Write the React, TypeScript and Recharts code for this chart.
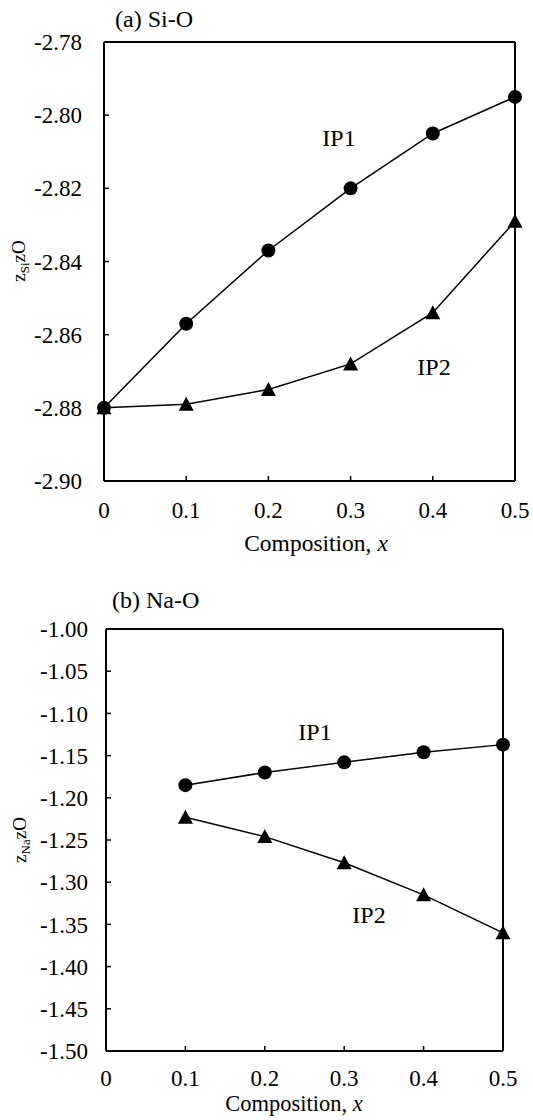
import React from 'react';
import { LineChart, Line, XAxis, YAxis, ReferenceLine } from 'recharts';

const FONT = '"Liberation Serif", "Times New Roman", serif';

// (a) Si-O
const siComposition = [0, 0.1, 0.2, 0.3, 0.4, 0.5];
const siIP1 = [-2.88, -2.857, -2.837, -2.82, -2.805, -2.795];
const siIP2 = [-2.88, -2.879, -2.875, -2.868, -2.854, -2.829];
const siTicks = [-2.9, -2.88, -2.86, -2.84, -2.82, -2.8, -2.78];

// (b) Na-O
const naComposition = [0.1, 0.2, 0.3, 0.4, 0.5];
const naIP1 = [-1.185, -1.17, -1.158, -1.146, -1.137];
const naIP2 = [-1.223, -1.246, -1.277, -1.315, -1.36];
const naTicks = [-1.5, -1.45, -1.4, -1.35, -1.3, -1.25, -1.2, -1.15, -1.1, -1.05, -1.0];

const xTicks = [0, 0.1, 0.2, 0.3, 0.4, 0.5];

const siData = siComposition.map((x, i) => ({ x, ip1: siIP1[i], ip2: siIP2[i] }));
const naData = naComposition.map((x, i) => ({ x, ip1: naIP1[i], ip2: naIP2[i] }));

const CircleDot = (props: any) => {
  const { cx, cy, index } = props;
  if (cx == null || cy == null) return null;
  return <circle key={`c${index}`} cx={cx} cy={cy} r={7} fill="#000" />;
};

const TriangleDot = (props: any) => {
  const { cx, cy, index } = props;
  if (cx == null || cy == null) return null;
  return (
    <polygon
      key={`t${index}`}
      points={`${cx},${cy - 7.5} ${cx - 7.5},${cy + 6.5} ${cx + 7.5},${cy + 6.5}`}
      fill="#000"
    />
  );
};

const tickStyle = { fontFamily: FONT, fontSize: 23, fill: '#000' };
const fmtX = (v: number) => (v === 0 ? '0' : v.toFixed(1));
const axisProps = {
  axisLine: { stroke: '#000', strokeWidth: 2 },
  tickLine: { stroke: '#000', strokeWidth: 1.5 },
  tick: tickStyle,
  tickSize: -5,
};

const YLabel = ({ x, y, sub }: any) => (
  <text
    x={x}
    y={y}
    transform={`rotate(-90 ${x} ${y})`}
    textAnchor="middle"
    fontFamily={FONT}
    fontSize={19}
    fill="#000"
  >
    z
    <tspan fontSize={13} dy={4}>
      {sub}
    </tspan>
    <tspan dy={-4}>zO</tspan>
  </text>
);

export default function App() {
  return (
    <div style={{ position: 'absolute', left: 0, top: 0, width: 533, height: 1120, background: '#fff' }}>
      <div style={{ position: 'absolute', left: 0, top: 0 }}>
        <LineChart width={533} height={560} data={siData} margin={{ top: 42, right: 18, left: 0, bottom: 0 }}>
          <XAxis
            dataKey="x"
            type="number"
            domain={[0, 0.5]}
            ticks={xTicks}
            tickFormatter={fmtX}
            height={79}
            tickMargin={26}
            {...axisProps}
          />
          <YAxis
            type="number"
            domain={[-2.9, -2.78]}
            ticks={siTicks}
            tickFormatter={(v: number) => v.toFixed(2)}
            width={104}
            tickMargin={27}
            {...axisProps}
          />
          <ReferenceLine y={-2.78} stroke="#000" strokeWidth={2} />
          <ReferenceLine x={0.5} stroke="#000" strokeWidth={2} />
          <Line dataKey="ip1" stroke="#000" strokeWidth={1.5} dot={<CircleDot />} isAnimationActive={false} />
          <Line dataKey="ip2" stroke="#000" strokeWidth={1.5} dot={<TriangleDot />} isAnimationActive={false} />
        </LineChart>
      </div>
      <div style={{ position: 'absolute', left: 0, top: 560 }}>
        <LineChart width={533} height={560} data={naData} margin={{ top: 69, right: 30, left: 0, bottom: 0 }}>
          <XAxis
            dataKey="x"
            type="number"
            domain={[0, 0.5]}
            ticks={xTicks}
            tickFormatter={fmtX}
            height={69}
            tickMargin={24}
            {...axisProps}
          />
          <YAxis
            type="number"
            domain={[-1.5, -1.0]}
            ticks={naTicks}
            tickFormatter={(v: number) => v.toFixed(2)}
            width={106}
            tickMargin={23}
            {...axisProps}
          />
          <ReferenceLine y={-1.0} stroke="#000" strokeWidth={2} />
          <ReferenceLine x={0.5} stroke="#000" strokeWidth={2} />
          <Line dataKey="ip1" stroke="#000" strokeWidth={1.5} dot={<CircleDot />} isAnimationActive={false} />
          <Line dataKey="ip2" stroke="#000" strokeWidth={1.5} dot={<TriangleDot />} isAnimationActive={false} />
        </LineChart>
      </div>

      <svg
        width={533}
        height={1120}
        style={{ position: 'absolute', left: 0, top: 0, pointerEvents: 'none' }}
        fontFamily={FONT}
        fill="#000"
      >
        <text x={115} y={27} fontSize={24}>(a) Si-O</text>
        <text x={339} y={146} fontSize={24} textAnchor="middle">IP1</text>
        <text x={434} y={375} fontSize={24} textAnchor="middle">IP2</text>
        <text x={316} y={551} fontSize={23.5} textAnchor="middle">
          Composition, <tspan fontStyle="italic">x</tspan>
        </text>
        <YLabel x={25} y={261} sub="Si" />

        <text x={112} y={608} fontSize={24}>(b) Na-O</text>
        <text x={315} y={740} fontSize={24} textAnchor="middle">IP1</text>
        <text x={369} y={923} fontSize={24} textAnchor="middle">IP2</text>
        <text x={294} y={1111} fontSize={22.5} textAnchor="middle">
          Composition, <tspan fontStyle="italic">x</tspan>
        </text>
        <YLabel x={26} y={840} sub="Na" />
      </svg>
    </div>
  );
}
